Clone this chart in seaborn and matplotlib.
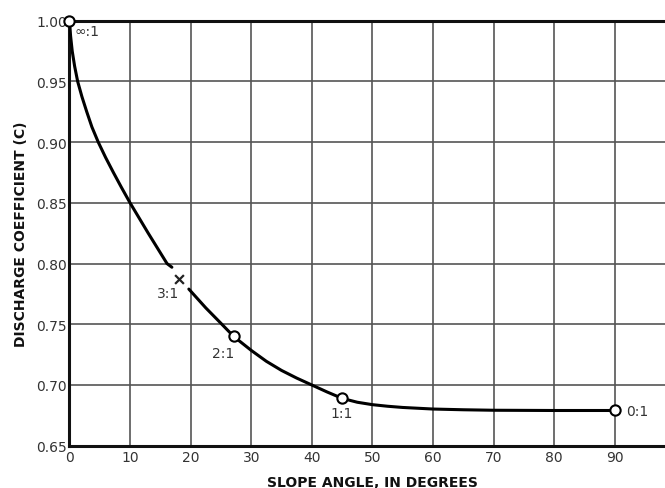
import matplotlib
matplotlib.use("Agg")
import matplotlib.pyplot as plt
import seaborn as sns
import pandas as pd

# Discharge coefficient curve, traced as two pieces (broken around the 3:1 mark)
seg1_angle = [0.0, 0.18, 0.45, 0.85, 1.35, 2.05, 2.85, 3.7, 4.75, 5.95, 7.25,
              8.6, 10.0, 11.5, 13.0, 14.55, 16.1, 16.9]
seg1_coef = [1.000, 0.9875, 0.975, 0.9625, 0.950, 0.9375, 0.925, 0.9125, 0.900,
             0.8875, 0.875, 0.8625, 0.850, 0.8375, 0.825, 0.8125, 0.800, 0.797]
seg2_angle = [19.7, 22.5, 25.0, 27.1, 30.0, 32.5, 35.0, 37.5, 40.0, 42.5, 45.0,
              47.5, 50.0, 52.5, 55.0, 60.0, 65.0, 70.0, 80.0, 90.0]
seg2_coef = [0.779, 0.7635, 0.7508, 0.740, 0.7285, 0.7195, 0.712, 0.7057, 0.700,
             0.6943, 0.689, 0.6858, 0.6838, 0.6825, 0.6815, 0.6802, 0.6796,
             0.6792, 0.679, 0.679]

# Slope ratios marked on the curve
ratio_labels = ["\u221e:1", "3:1", "2:1", "1:1", "0:1"]
ratio_angle = [0.0, 18.0, 27.1, 45.0, 90.0]
ratio_coef = [1.000, 0.787, 0.740, 0.689, 0.679]
ratio_marker = ["o", "x", "o", "o", "o"]
label_offset = [(12.8, -7.6), (-7.9, -10.1), (-7.7, -12.0), (-0.7, -10.8), (8.4, -0.7)]
label_ha = ["center", "center", "center", "center", "left"]

x_ticks = [0, 10, 20, 30, 40, 50, 60, 70, 80, 90]
y_ticks = [0.65, 0.70, 0.75, 0.80, 0.85, 0.90, 0.95, 1.00]

curve = pd.DataFrame({
    "angle": seg1_angle + seg2_angle,
    "coef": seg1_coef + seg2_coef,
    "piece": [1] * len(seg1_angle) + [2] * len(seg2_angle),
})
marks = pd.DataFrame({"angle": ratio_angle, "coef": ratio_coef, "marker": ratio_marker})

sns.set_theme(style="white")
plt.rcParams["font.family"] = ["DejaVu Sans"]

fig = plt.figure(figsize=(6.65, 4.89), dpi=100)
ax = fig.add_axes([0.1045, 0.0865, 0.911, 0.869])

sns.lineplot(data=curve, x="angle", y="coef", units="piece", estimator=None,
             sort=False, color="black", linewidth=2.2, ax=ax, zorder=3)
for line in ax.get_lines():
    line.set_solid_joinstyle("round")

circ = marks[marks["marker"] == "o"]
cross = marks[marks["marker"] == "x"]
sns.scatterplot(data=circ, x="angle", y="coef", marker="o", s=55,
                facecolor="white", edgecolor="black", linewidth=1.5,
                ax=ax, zorder=5, clip_on=False)
sns.scatterplot(data=cross, x="angle", y="coef", marker="x", s=40,
                color="#222222", linewidth=1.6, ax=ax, zorder=5)

for lab, xa, yc, off, ha in zip(ratio_labels, ratio_angle, ratio_coef, label_offset, label_ha):
    ax.annotate(lab, (xa, yc), xytext=off, textcoords="offset points",
                ha=ha, va="center", fontsize=10, color="#333333")

ax.set_xlim(0, 100)
ax.set_ylim(0.65, 1.00)
ax.set_xticks(x_ticks)
ax.set_yticks(y_ticks)
ax.set_xticklabels([str(v) for v in x_ticks])
ax.set_yticklabels([f"{v:.2f}" for v in y_ticks])
ax.tick_params(axis="both", length=0, labelsize=10, colors="#333333")
ax.tick_params(axis="y", pad=2)
ax.tick_params(axis="x", pad=3)

ax.grid(True, color="#555555", linewidth=1.2)
ax.set_axisbelow(True)

for side in ["left", "bottom", "top"]:
    ax.spines[side].set_visible(True)
    ax.spines[side].set_color("#111111")
    ax.spines[side].set_linewidth(2.2)
ax.spines["right"].set_visible(False)

ax.set_xlabel("SLOPE ANGLE, IN DEGREES", fontsize=10, fontweight="bold",
              color="#111111", labelpad=8)
ax.set_ylabel("DISCHARGE COEFFICIENT (C)", fontsize=10, fontweight="bold",
              color="#111111", labelpad=6)

fig.savefig("out.png", dpi=100)
